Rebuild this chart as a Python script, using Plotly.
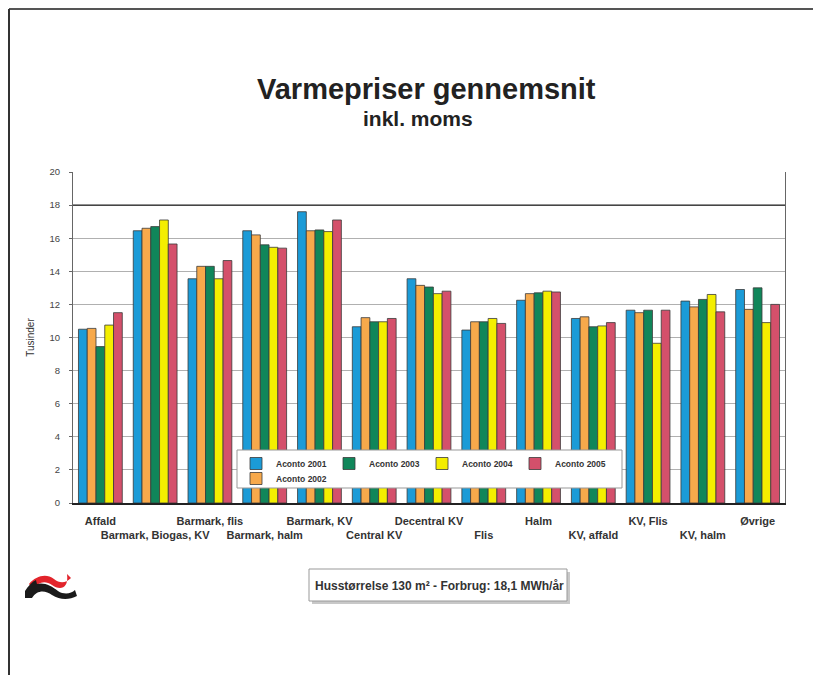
import plotly.graph_objects as go

categories = ["Affald", "Barmark, Biogas, KV", "Barmark, flis", "Barmark, halm", "Barmark, KV",
              "Central KV", "Decentral KV", "Flis", "Halm", "KV, affald", "KV, Flis", "KV, halm", "Øvrige"]

aconto_2001 = [10.5, 16.45, 13.55, 16.45, 17.6, 10.65, 13.55, 10.45, 12.25, 11.15, 11.65, 12.2, 12.9]
aconto_2002 = [10.55, 16.6, 14.3, 16.2, 16.45, 11.2, 13.15, 10.95, 12.65, 11.25, 11.5, 11.85, 11.7]
aconto_2003 = [9.45, 16.7, 14.3, 15.6, 16.5, 10.95, 13.05, 10.95, 12.7, 10.65, 11.65, 12.3, 13.0]
aconto_2004 = [10.75, 17.1, 13.55, 15.45, 16.4, 10.95, 12.65, 11.15, 12.8, 10.7, 9.65, 12.6, 10.9]
aconto_2005 = [11.5, 15.65, 14.65, 15.4, 17.1, 11.15, 12.8, 10.85, 12.75, 10.9, 11.65, 11.55, 12.0]

series = [
    ("Aconto 2001", aconto_2001, "#1b9bd7"),
    ("Aconto 2002", aconto_2002, "#f7a94b"),
    ("Aconto 2003", aconto_2003, "#10865a"),
    ("Aconto 2004", aconto_2004, "#f4ee00"),
    ("Aconto 2005", aconto_2005, "#d4506b"),
]

y_ticks = list(range(0, 21, 2))
tick_text = [c if i % 2 == 0 else "<br>" + c for i, c in enumerate(categories)]

# page body has an 8px margin: figure is placed at (8, 8) in the window
OFF = 8
W, H = 821 - OFF, 675 - OFF
L, R, T, B = 73 - OFF, 36, 172 - OFF, 172
PW, PH = W - L - R, H - T - B


def px(x, y):
    """window pixel -> paper coordinates"""
    return (x - OFF - L) / PW, (H - B - (y - OFF)) / PH


def path(points):
    s = ""
    for cmd, pts in points:
        s += cmd
        s += " ".join("%.4f,%.4f" % px(a, b) for a, b in pts) + " "
    return s + "Z"


fig = go.Figure()
for name, vals, color in series:
    fig.add_trace(go.Bar(
        name=name, x=categories, y=vals,
        marker=dict(color=color, line=dict(color="#3a3a3a", width=0.8)),
        legend="legend" if name != "Aconto 2002" else "legend2",
    ))

font_family = "Liberation Sans, Arial, sans-serif"

shapes = [
    # outer frame
    dict(type="line", xref="paper", yref="paper", x0=px(9, 0)[0], x1=px(821, 0)[0],
         y0=px(0, 9)[1], y1=px(0, 9)[1], line=dict(color="#555", width=2)),
    dict(type="line", xref="paper", yref="paper", x0=px(9, 0)[0], x1=px(9, 0)[0],
         y0=px(0, 9)[1], y1=px(0, 675)[1], line=dict(color="#333", width=2)),
    # dark line at 18
    dict(type="line", xref="paper", yref="y", x0=0, x1=1, y0=18, y1=18,
         line=dict(color="#222", width=1.2)),
    # legend box
    dict(type="rect", xref="paper", yref="paper", x0=px(237, 0)[0], x1=px(622, 0)[0],
         y0=px(0, 450)[1], y1=px(0, 488)[1], fillcolor="white", line=dict(color="#999", width=1),
         layer="above"),
    # info box shadow + box
    dict(type="rect", xref="paper", yref="paper", x0=px(312, 0)[0], x1=px(570, 0)[0],
         y0=px(0, 572)[1], y1=px(0, 604)[1], fillcolor="#c8c8c8", line=dict(width=0)),
    dict(type="rect", xref="paper", yref="paper", x0=px(309, 0)[0], x1=px(567, 0)[0],
         y0=px(0, 569)[1], y1=px(0, 601)[1], fillcolor="white", line=dict(color="#999", width=1)),
    # logo red
    dict(type="path", xref="paper", yref="paper", fillcolor="#e2242b", line=dict(width=0),
         path=path([("M", [(29, 584)]), ("C", [(36, 576), (46, 573), (54, 579)]),
                    ("C", [(60, 584), (66, 583), (71, 578)]), ("L", [(67, 574), (82, 571), (81, 585), (78, 581)]),
                    ("C", [(69, 590), (59, 590), (52, 585)]), ("C", [(45, 580), (38, 582), (33, 589)])])),
    # logo black
    dict(type="path", xref="paper", yref="paper", fillcolor="#1a1a1a", line=dict(width=0),
         path=path([("M", [(25, 591)]), ("C", [(28, 586), (32, 582), (36, 580)]),
                    ("L", [(37, 584)]), ("C", [(44, 582), (52, 586), (58, 591)]),
                    ("C", [(64, 595), (71, 594), (75, 590)]), ("L", [(77, 596)]),
                    ("C", [(69, 600), (60, 600), (52, 595)]), ("C", [(45, 590), (37, 590), (32, 598)]),
                    ("L", [(25, 598)])])),
]

annotations = [
    dict(text="<b>Varmepriser gennemsnit</b>", xref="paper", yref="paper", x=px(426, 0)[0], y=px(0, 89)[1],
         showarrow=False, font=dict(size=29, color="#222", family=font_family), yanchor="middle"),
    dict(text="<b>inkl. moms</b>", xref="paper", yref="paper", x=px(418, 0)[0], y=px(0, 119)[1],
         showarrow=False, font=dict(size=21, color="#222", family=font_family), yanchor="middle"),
    dict(text="<b>Husstørrelse 130 m² - Forbrug: 18,1 MWh/år</b>", xref="paper", yref="paper",
         x=px(439, 0)[0], y=px(0, 586)[1], showarrow=False,
         font=dict(size=12, color="#333", family=font_family), yanchor="middle"),
]

fig.update_layout(
    width=W, height=H,
    margin=dict(l=L, r=R, t=T, b=B, pad=0, autoexpand=False),
    paper_bgcolor="white", plot_bgcolor="white",
    barmode="group", bargap=0.2, bargroupgap=0,
    font=dict(family=font_family, size=10, color="#333"),
    shapes=shapes, annotations=annotations,
    legend=dict(orientation="h", xref="paper", yref="paper", x=px(236, 0)[0], y=px(0, 449)[1],
                xanchor="left", yanchor="top", bgcolor="rgba(0,0,0,0)", borderwidth=0,
                font=dict(size=8.5, color="#333", family=font_family, weight="bold"), entrywidth=48,
                traceorder="normal", itemwidth=30),
    legend2=dict(orientation="h", xref="paper", yref="paper", x=px(236, 0)[0], y=px(0, 464)[1],
                 xanchor="left", yanchor="top", bgcolor="rgba(0,0,0,0)", borderwidth=0,
                 font=dict(size=8.5, color="#333", family=font_family, weight="bold"), itemwidth=30),
    xaxis=dict(type="category", showline=True, linecolor="#222", linewidth=1.5, mirror=False,
               ticks="", tickangle=0, tickvals=categories, ticktext=tick_text,
               tickfont=dict(size=11, color="#333", weight="bold"), ticklabelstandoff=7,
               showgrid=False, automargin=False),
    yaxis=dict(range=[0, 20], tickvals=y_ticks, showgrid=True, gridcolor="#b0b0b0", gridwidth=1,
               showline=True, linecolor="#666", linewidth=1, mirror=True, ticks="outside",
               ticklen=3, tickcolor="#666", tickfont=dict(size=9.5, color="#444"),
               ticklabelstandoff=7,
               title=dict(text="Tusinder", font=dict(size=10, color="#333"), standoff=13),
               zeroline=False, automargin=False),
)

fig.write_html("out.html")
